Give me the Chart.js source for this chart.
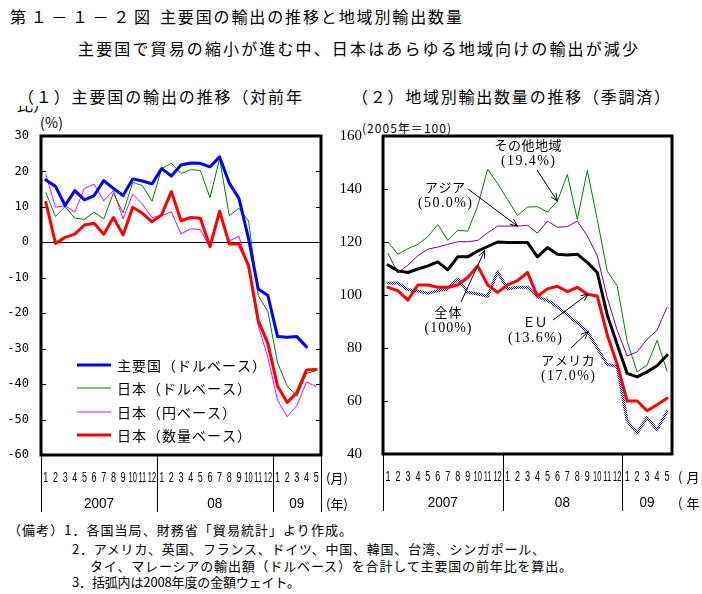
<!DOCTYPE html>
<html>
<head>
<meta charset="utf-8">
<script src="https://cdn.jsdelivr.net/npm/chart.js@4.4.1/dist/chart.umd.min.js"></script>
<style>
body { margin: 0; background: #fff; width: 702px; height: 594px; overflow: hidden; position: relative; font-family: "Noto Sans CJK JP", sans-serif; color: #000; }
.t { position: absolute; white-space: nowrap; line-height: 1; }
canvas { position: absolute; }
</style>
</head>
<body>
<div class="t" data-x0="10" data-x1="150" style="top:8px;font-size:16px">第１－１－２図</div>
<div class="t" data-x0="160" data-x1="462" style="top:8px;font-size:16px">主要国の輸出の推移と地域別輸出数量</div>
<div class="t" data-x0="78" data-x1="638" style="top:40px;font-size:16px">主要国で貿易の縮小が進む中、日本はあらゆる地域向けの輸出が減少</div>
<div class="t" data-x0="18" data-x1="302" style="top:88px;font-size:16px">（１）主要国の輸出の推移（対前年</div>
<div class="t" style="left:17px;top:106px;height:7px;overflow:hidden;font-size:16px"><div style="position:relative;top:-10px">比）</div></div>
<div class="t" data-x0="352" data-x1="670" style="top:88px;font-size:16px">（２）地域別輸出数量の推移（季調済）</div>
<div class="t" data-x0="40" data-x1="63" style="top:115px;font-size:14px">(%)</div>
<div class="t" data-x0="362" data-x1="451" style="top:122px;font-size:12px">(2005年＝100)</div>
<div class="t" data-x0="8" data-x1="352" style="top:523px;font-size:13px">（備考）1．各国当局、財務省「貿易統計」より作成。</div>
<div class="t" data-x0="72" data-x1="545" style="top:542px;font-size:13px">2．アメリカ、英国、フランス、ドイツ、中国、韓国、台湾、シンガポール、</div>
<div class="t" data-x0="90" data-x1="572" style="top:559px;font-size:13px">タイ、マレーシアの輸出額（ドルベース）を合計して主要国の前年比を算出。</div>
<div class="t" data-x0="72" data-x1="300" style="top:575px;font-size:13px">3．括弧内は2008年度の金額ウェイト。</div>

<canvas id="left" width="352" height="420" style="left:0;top:100px;width:352px;height:420px"></canvas>
<canvas id="right" width="362" height="420" style="left:340px;top:100px;width:362px;height:420px"></canvas>

<script>
// months Jan 2007 - May 2009
const months = ["1","2","3","4","5","6","7","8","9","10","11","12",
                "1","2","3","4","5","6","7","8","9","10","11","12",
                "1","2","3","4","5"];
const years = ["2007", "08", "09"];
const yearMonths = [12, 12, 5];

// (1) year-on-year export growth, %
const majorDollar = [17.6, 15.8, 10.4, 14.6, 12.0, 13.2, 17.4, 15.2, 13.2, 17.9, 17.3, 16.5,
                     20.8, 18.7, 21.8, 22.4, 22.3, 21.3, 24.1, 16.7, 12.4, 1.0, -13.2, -15.0,
                     -26.6, -26.8, -26.6, -29.5, null];
const japanDollar = [14.1, 7.3, 10.1, 6.8, 6.5, 8.5, 6.6, 13.9, 8.3, 16.9, 16.0, 11.6,
                     20.8, 22.3, 19.4, 20.5, 20.3, 12.6, 23.6, 7.5, 9.6, 6.0, -15.0, -19.5,
                     -34.0, -40.5, -43.5, -37.0, -36.2];
const japanYen = [19.2, 9.9, 10.3, 8.6, 15.2, 16.4, 11.7, 14.6, 6.6, 13.6, 10.8, 7.0,
                  7.5, 8.6, 2.4, 3.8, 3.6, -1.4, 8.1, 0.4, 1.7, -7.6, -23.5, -32.5,
                  -44.5, -49.2, -46.0, -39.4, -40.7];
const japanVolume = [11.3, -0.3, 1.4, 2.3, 4.9, 5.4, 2.3, 7.0, 2.1, 9.9, 8.2, 5.8,
                     7.8, 14.3, 6.1, 7.0, 6.8, -1.2, 8.8, -0.5, -0.5, -6.6, -22.1, -28.6,
                     -40.6, -45.2, -42.4, -36.0, -35.9];
const leftTicks = { min: -60, max: 30, step: 10 };

// (2) export volume by region, 2005 = 100
const otherRegions = [120, 115.4, 117.5, 119.1, 122, 126.6, 120.6, 124.4, 124.1, 133.5, 147.5, 142,
                      136, 130, 133.2, 133.3, 131.3, 135.4, 145.5, 128.5, 147, 128.5, 109, 103.5,
                      82.5, 71, 73.5, 82.9, 71.3];
const asia = [115.6, 108.3, 111.3, 114.8, 117.3, 118.1, 119.1, 120.1, 120.1, 120.6, 123.5, 126,
              126, 126, 126.3, 123.3, 127.9, 125.6, 125.8, 127.9, 122.3, 114.8, 99, 86.7,
              77, 78.5, 83.3, 86.7, 95.4];
const total = [111.3, 109.1, 108.5, 109.8, 111, 112.5, 109.5, 114.4, 114.4, 116.6, 118.3, 120,
               119.8, 119.8, 119.8, 114.4, 117.9, 115.4, 115.1, 115.4, 112.3, 108.5, 92.5, 81.3,
               70.4, 69.1, 71, 73.3, 77.3];
const eu = [102.9, 101.6, 98.1, 103.8, 103.8, 102.9, 102.9, 103.8, 106.6, 111, 103.8, 101,
            103.8, 105.4, 108.5, 99.5, 102.3, 103.3, 101.3, 102.9, 100.3, 99.6, 85, 73.8,
            60, 60, 56.3, 58.6, 61];
const usa = [104.5, 104.5, 102, 101.5, 100.6, 101.6, 102.3, 106, 101, 100.4, 99.5, 108.8,
             102.3, 102.9, 102.9, 99.3, 98, 95.5, 92.5, 89.5, 86.3, 80, 73.8, 73,
             52.5, 47.9, 53.8, 49.1, 56];
const rightTicks = { min: 40, max: 160, step: 20 };

// callouts on chart (2): [name, share, text pos, arrow start, tip index, tip value]
const callouts = [
  ["その他地域", "(19.4%)", [528, 145], [537, 170], 17, 135.4],
  ["アジア", "(50.0%)", [445, 187], [468, 189], 13, 126],
  ["全体", "(100%)", [448, 312], [461, 302], 9.7, 116.8],
  ["ＥＵ", "(13.6%)", [535, 322], [553, 320], 20.1, 100.4],
  ["アメリカ", "(17.0%)", [568, 360], [571, 348], 20.1, 86.2],
];

// stretch text spans to the widths in the reference
document.querySelectorAll(".t[data-x0]").forEach(el => {
  const x0 = +el.dataset.x0, x1 = +el.dataset.x1;
  el.style.left = x0 + "px";
  const n = [...el.textContent].length;
  const w = el.getBoundingClientRect().width;
  el.style.letterSpacing = ((x1 - x0 - w) / (n - 1)) + "px";
});

const jp = '"Noto Sans CJK JP", sans-serif';

function spacedText(ctx, text, x, y, font, width, align) {
  ctx.font = font;
  ctx.letterSpacing = "0px";
  const n = [...text].length;
  const w0 = ctx.measureText(text).width;
  const ls = width ? (width - w0) / Math.max(n - 1, 1) : 0;
  ctx.letterSpacing = ls + "px";
  const w = w0 + ls * (n - 1);
  let sx = x;
  if (align === "center") sx = x - w / 2;
  ctx.textAlign = "left";
  ctx.fillText(text, sx, y);
  ctx.letterSpacing = "0px";
}

// frame, inner ticks, months/years under the axis
function axisDecor(opts) {
  return {
    id: "axisDecor",
    afterDatasetsDraw(chart) {
      const { ctx, chartArea: a, scales: { x, y } } = chart;
      ctx.save();
      ctx.strokeStyle = "#000";
      ctx.lineWidth = 1;
      y.ticks.forEach(t => {
        const py = Math.round(y.getPixelForValue(t.value)) + 0.5;
        ctx.beginPath();
        ctx.moveTo(a.left, py); ctx.lineTo(a.left + 5, py);
        if (opts.rightTicks) { ctx.moveTo(a.right - 5, py); ctx.lineTo(a.right, py); }
        ctx.stroke();
      });
      ctx.lineWidth = 3;
      ctx.strokeRect(a.left, a.top, a.right - a.left, a.bottom - a.top);

      ctx.fillStyle = "#000";
      ctx.textBaseline = "middle";
      ctx.textAlign = "center";
      ctx.font = '15px "Liberation Sans"';
      months.forEach((m, i) => {
        ctx.save();
        ctx.translate(x.getPixelForValue(i), a.bottom + 23);
        ctx.scale(m.length > 1 ? 0.5 : 0.6, 1);
        ctx.fillText(m, 0, 0);
        ctx.restore();
      });
      ctx.lineWidth = 1;
      let start = 0;
      const seps = [];
      yearMonths.forEach((n, k) => {
        seps.push(start - 0.5);
        ctx.save();
        ctx.translate(x.getPixelForValue(start + (n - 1) / 2), a.bottom + 49);
        ctx.scale(0.9, 1);
        ctx.fillText(years[k], 0, 0);
        ctx.restore();
        start += n;
      });
      if (opts.lastSep) seps.push(start - 0.5);
      seps.forEach(v => {
        const px = Math.round(x.getPixelForValue(v)) + 0.5;
        ctx.beginPath();
        ctx.moveTo(px, a.bottom); ctx.lineTo(px, a.bottom + 57);
        ctx.stroke();
      });
      ctx.textAlign = "left";
      ctx.font = "13px " + jp;
      ctx.letterSpacing = opts.unitSpacing + "px";
      ctx.fillText("(月)", a.right + opts.unitGap, a.bottom + 23);
      ctx.fillText("(年)", a.right + opts.unitGap, a.bottom + 49);
      ctx.letterSpacing = "0px";
      ctx.restore();
    }
  };
}

const legendPlugin = {
  id: "legendRows",
  afterDatasetsDraw(chart) {
    const { ctx } = chart;
    const rows = [265, 288, 312, 335];
    ctx.save();
    chart.data.datasets.forEach((ds, i) => {
      ctx.strokeStyle = ds.borderColor;
      ctx.lineWidth = ds.borderWidth;
      ctx.beginPath();
      ctx.moveTo(77, rows[i]); ctx.lineTo(111, rows[i]);
      ctx.stroke();
      ctx.fillStyle = "#000";
      ctx.textBaseline = "middle";
      spacedText(ctx, ds.label, 117, rows[i] + 1, "14px " + jp, [...ds.label].length * 15 - 1);
    });
    ctx.restore();
  }
};

const calloutPlugin = {
  id: "callouts",
  afterDatasetsDraw(chart) {
    const { ctx, scales: { x, y } } = chart;
    const ox = 340, oy = 100;
    ctx.save();
    ctx.fillStyle = "#000";
    ctx.strokeStyle = "#000";
    ctx.textBaseline = "middle";
    callouts.forEach(([name, share, pos, from, ti, tv]) => {
      const n = [...name].length;
      spacedText(ctx, name, pos[0] - ox, pos[1] - oy, "13px " + jp, name === "ＥＵ" ? 25 : n * 13.4, "center");
      spacedText(ctx, share, pos[0] - ox, pos[1] - oy + 16, '14px "Liberation Serif"', share.length > 6 ? 54 : 47, "center");
      const x0 = from[0] - ox, y0 = from[1] - oy;
      const x1 = x.getPixelForValue(ti), y1 = y.getPixelForValue(tv);
      ctx.lineWidth = 1;
      ctx.beginPath();
      ctx.moveTo(x0, y0); ctx.lineTo(x1, y1);
      const ang = Math.atan2(y1 - y0, x1 - x0);
      const len = 8;
      ctx.moveTo(x1 - len * Math.cos(ang - 0.4), y1 - len * Math.sin(ang - 0.4));
      ctx.lineTo(x1, y1);
      ctx.lineTo(x1 - len * Math.cos(ang + 0.4), y1 - len * Math.sin(ang + 0.4));
      ctx.stroke();
    });
    ctx.restore();
  }
};

// checkered blue brush for the US line
const pc = document.createElement("canvas");
pc.width = 2; pc.height = 2;
const pctx = pc.getContext("2d");
pctx.fillStyle = "#0000ff";
pctx.fillRect(0, 0, 1, 1);
pctx.fillRect(1, 1, 1, 1);
const usaBrush = pctx.createPattern(pc, "repeat");

function baseOptions(t, padTop, padRight, yWidth, xHeight, tickPad, tickFont, zeroLine) {
  return {
    responsive: false,
    animation: false,
    layout: { padding: { top: padTop, right: padRight, left: 0, bottom: 0 }, autoPadding: false },
    elements: { point: { radius: 0 }, line: { tension: 0, borderCapStyle: "round", borderJoinStyle: "round" } },
    plugins: { legend: { display: false }, tooltip: { enabled: false } },
    scales: {
      x: {
        offset: true,
        grid: { display: false },
        border: { display: false },
        ticks: { display: false },
        afterFit(s) { s.height = xHeight; }
      },
      y: {
        min: t.min, max: t.max,
        ticks: { stepSize: t.step, padding: tickPad, color: "#000", font: tickFont },
        grid: {
          drawTicks: false,
          color: c => (zeroLine && c.tick && c.tick.value === 0) ? "#000" : "rgba(0,0,0,0)",
          lineWidth: 1
        },
        border: { display: false },
        afterFit(s) { s.width = yWidth; }
      }
    }
  };
}

new Chart(document.getElementById("left"), {
  type: "line",
  data: {
    labels: months,
    datasets: [
      { label: "主要国（ドルベース）", data: majorDollar, borderColor: "#0000ff", borderWidth: 3, order: 0 },
      { label: "日本（ドルベース）", data: japanDollar, borderColor: "#008000", borderWidth: 1, order: 2 },
      { label: "日本（円ベース）", data: japanYen, borderColor: "#ff00ff", borderWidth: 1, order: 3 },
      { label: "日本（数量ベース）", data: japanVolume, borderColor: "#ff0000", borderWidth: 3, order: 1 }
    ]
  },
  options: baseOptions(leftTicks, 36, 31, 41, 65, 12, { family: "DejaVu Sans Mono", size: 12 }, true),
  plugins: [axisDecor({ rightTicks: true, lastSep: true, unitGap: 5, unitSpacing: 0 }), legendPlugin]
});

new Chart(document.getElementById("right"), {
  type: "line",
  data: {
    labels: months,
    datasets: [
      { label: "その他地域", data: otherRegions, borderColor: "#008000", borderWidth: 1, order: 4 },
      { label: "アジア", data: asia, borderColor: "#800080", borderWidth: 1, order: 3 },
      { label: "全体", data: total, borderColor: "#000000", borderWidth: 3, order: 0 },
      { label: "EU", data: eu, borderColor: "#ff0000", borderWidth: 3, order: 1 },
      { label: "アメリカ", data: usa, borderColor: usaBrush, borderWidth: 3, order: 2 }
    ]
  },
  options: baseOptions(rightTicks, 36, 30, 43, 66, 21, { family: "Liberation Serif", size: 15 }, false),
  plugins: [axisDecor({ rightTicks: false, lastSep: false, unitGap: 6, unitSpacing: 4 }), calloutPlugin]
});
</script>
</body>
</html>
